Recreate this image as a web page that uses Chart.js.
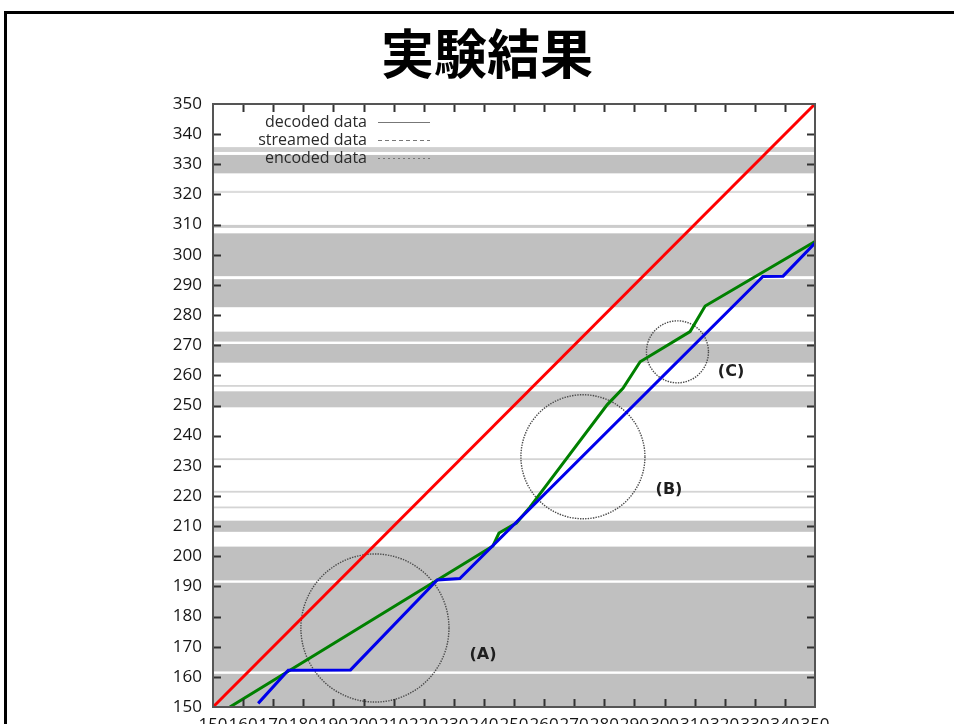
<!DOCTYPE html>
<html>
<head>
<meta charset="utf-8">
<script src="https://cdn.jsdelivr.net/npm/chart.js@4.4.1/dist/chart.umd.min.js"></script>
<style>
  html, body { margin: 0; padding: 0; width: 954px; height: 724px; overflow: hidden; background: #fff; }
  #title { position: absolute; left: 0; top: 25px; width: 974px; text-align: center;
           font: bold 53px "Noto Sans CJK JP"; line-height: 53px; color: #000; }
  #plot { position: absolute; left: 0; top: 0; }
</style>
</head>
<body>
<canvas id="plot" width="954" height="760"></canvas>
<div id="title">実験結果</div>
<script>
// Reference diagonal (encoded data)
const encodedX = [150, 350];
const encodedY = [150, 350];

// Streamed data
const streamedX = [155.6, 243, 245, 250.8, 255.3, 281, 286.2, 291.9, 308.5, 313.5, 350];
const streamedY = [150, 203.4, 207.7, 211.0, 216.3, 250.3, 255.7, 264.5, 274.5, 283.0, 304.4];

// Decoded data
const decodedX = [165, 175, 195.7, 224.5, 232, 332.7, 339.4, 350];
const decodedY = [151.2, 162.2, 162.3, 192.1, 192.6, 292.8, 292.9, 303.9];

// Shaded horizontal bands: lower bound, upper bound, shade
const bandLow  = [334.1, 327.0, 320.5, 308.9, 292.9, 282.6, 271.2, 264.2, 256.2, 249.4, 231.9, 221.1, 215.9, 208.1, 192.0, 161.8, 150.0];
const bandHigh = [335.7, 333.1, 321.2, 309.9, 307.1, 291.9, 274.5, 270.4, 256.8, 254.7, 232.5, 221.7, 216.5, 211.8, 203.2, 191.2, 161.0];
const bandShade = ['#d0d0d0', '#c0c0c0', '#dcdcdc', '#cccccc', '#c0c0c0', '#c0c0c0', '#c8c8c8', '#c0c0c0',
                   '#d4d4d4', '#c6c6c6', '#d4d4d4', '#d4d4d4', '#d4d4d4', '#c4c4c4', '#c0c0c0', '#c0c0c0', '#c0c0c0'];

// Highlighted regions: centre, radius (axis units) and caption
const regionX = [203.8, 272.9, 304.3];
const regionY = [176.2, 233.0, 267.8];
const regionR = [24.6, 20.6, 10.3];
const regionLabel = ['(A)', '(B)', '(C)'];
const regionLabelX = [239.7, 301.5, 322.1];
const regionLabelY = [167.2, 222.0, 261.1];

// Key entries
const keyLabels = ['decoded data', 'streamed data', 'encoded data'];
const keyDash = [[], [4, 3], [2, 3]];

const toPoints = (xs, ys) => xs.map((x, i) => ({ x, y: ys[i] }));

// Slide outline: heavy rule along the top and left edges
const pageFrame = {
  id: 'pageFrame',
  beforeDraw(chart) {
    const { ctx, width, height } = chart;
    ctx.save();
    ctx.fillStyle = '#000';
    ctx.fillRect(4, 11, width - 4, 3);
    ctx.fillRect(4, 11, 3, height - 11);
    ctx.restore();
  }
};

const backdrop = {
  id: 'backdrop',
  beforeDatasetsDraw(chart) {
    const { ctx, chartArea: a, scales: { x, y } } = chart;
    ctx.save();
    ctx.beginPath();
    ctx.rect(a.left, a.top, a.right - a.left, a.bottom - a.top);
    ctx.clip();
    bandLow.forEach((lo, i) => {
      const yTop = y.getPixelForValue(bandHigh[i]);
      const yBot = y.getPixelForValue(lo);
      ctx.fillStyle = bandShade[i];
      ctx.fillRect(a.left, yTop, a.right - a.left, yBot - yTop);
    });
    // dotted region circles
    ctx.strokeStyle = '#4a4a4a';
    ctx.lineWidth = 1.4;
    ctx.setLineDash([1.4, 1.2]);
    regionX.forEach((cx, i) => {
      const px = x.getPixelForValue(cx);
      const py = y.getPixelForValue(regionY[i]);
      const pr = Math.abs(x.getPixelForValue(cx + regionR[i]) - px);
      ctx.beginPath();
      ctx.arc(px, py, pr, 0, Math.PI * 2);
      ctx.stroke();
    });
    ctx.setLineDash([]);
    ctx.fillStyle = '#1e1e1e';
    ctx.font = 'bold 16px "DejaVu Sans"';
    ctx.textAlign = 'center';
    ctx.textBaseline = 'middle';
    regionLabel.forEach((t, i) => {
      ctx.fillText(t, x.getPixelForValue(regionLabelX[i]), y.getPixelForValue(regionLabelY[i]));
    });
    ctx.restore();
  },
  afterDatasetsDraw(chart) {
    const { ctx, chartArea: a, scales: { x, y } } = chart;
    ctx.save();
    // inward tick marks on all four sides
    ctx.strokeStyle = '#333';
    ctx.lineWidth = 2;
    const tl = 8;
    x.ticks.forEach(t => {
      if (t.value <= x.min || t.value >= x.max) return;
      const px = Math.round(x.getPixelForValue(t.value)) + 0.5;
      ctx.beginPath();
      ctx.moveTo(px, a.bottom); ctx.lineTo(px, a.bottom - tl);
      ctx.moveTo(px, a.top); ctx.lineTo(px, a.top + tl);
      ctx.stroke();
    });
    y.ticks.forEach(t => {
      if (t.value <= y.min || t.value >= y.max) return;
      const py = Math.round(y.getPixelForValue(t.value)) + 0.5;
      ctx.beginPath();
      ctx.moveTo(a.left, py); ctx.lineTo(a.left + tl, py);
      ctx.moveTo(a.right, py); ctx.lineTo(a.right - tl, py);
      ctx.stroke();
    });
    // plot frame
    ctx.strokeStyle = '#555';
    ctx.lineWidth = 2;
    ctx.strokeRect(a.left, a.top, a.right - a.left, a.bottom - a.top);
    // key
    ctx.font = '16px "Open Sans"';
    ctx.fillStyle = '#2a2a2a';
    ctx.textAlign = 'right';
    ctx.textBaseline = 'middle';
    ctx.strokeStyle = '#777';
    ctx.lineWidth = 1;
    keyLabels.forEach((t, i) => {
      const ky = a.top + 18 + i * 18;
      ctx.fillText(t, a.left + 154, ky);
      ctx.setLineDash(keyDash[i]);
      ctx.beginPath();
      ctx.moveTo(a.left + 165, ky + 0.5);
      ctx.lineTo(a.left + 217, ky + 0.5);
      ctx.stroke();
    });
    ctx.restore();
  }
};

const tickFont = { family: 'Open Sans', size: 17 };

new Chart(document.getElementById('plot'), {
  type: 'line',
  data: {
    datasets: [
      { label: 'decoded data', data: toPoints(decodedX, decodedY), borderColor: 'rgb(0,0,235)', borderWidth: 3 },
      { label: 'streamed data', data: toPoints(streamedX, streamedY), borderColor: 'rgb(0,128,0)', borderWidth: 3 },
      { label: 'encoded data', data: toPoints(encodedX, encodedY), borderColor: 'rgb(255,0,0)', borderWidth: 3 }
    ]
  },
  options: {
    responsive: false,
    animation: false,
    layout: { padding: { left: 0, right: 139, top: 104, bottom: 0 } },
    elements: { point: { radius: 0 }, line: { tension: 0 } },
    plugins: { legend: { display: false }, tooltip: { enabled: false } },
    scales: {
      x: {
        type: 'linear', min: 150, max: 350,
        ticks: { stepSize: 10, autoSkip: false, maxRotation: 0, color: '#151515', font: tickFont, padding: 8 },
        grid: { display: false, drawTicks: false },
        border: { display: false },
        afterFit(s) { s.height = 53; }
      },
      y: {
        type: 'linear', min: 150, max: 350,
        ticks: { stepSize: 10, color: '#151515', font: tickFont, padding: 11 },
        grid: { display: false, drawTicks: false },
        border: { display: false },
        afterFit(s) { s.width = 213; }
      }
    }
  },
  plugins: [pageFrame, backdrop]
});
</script>
</body>
</html>
